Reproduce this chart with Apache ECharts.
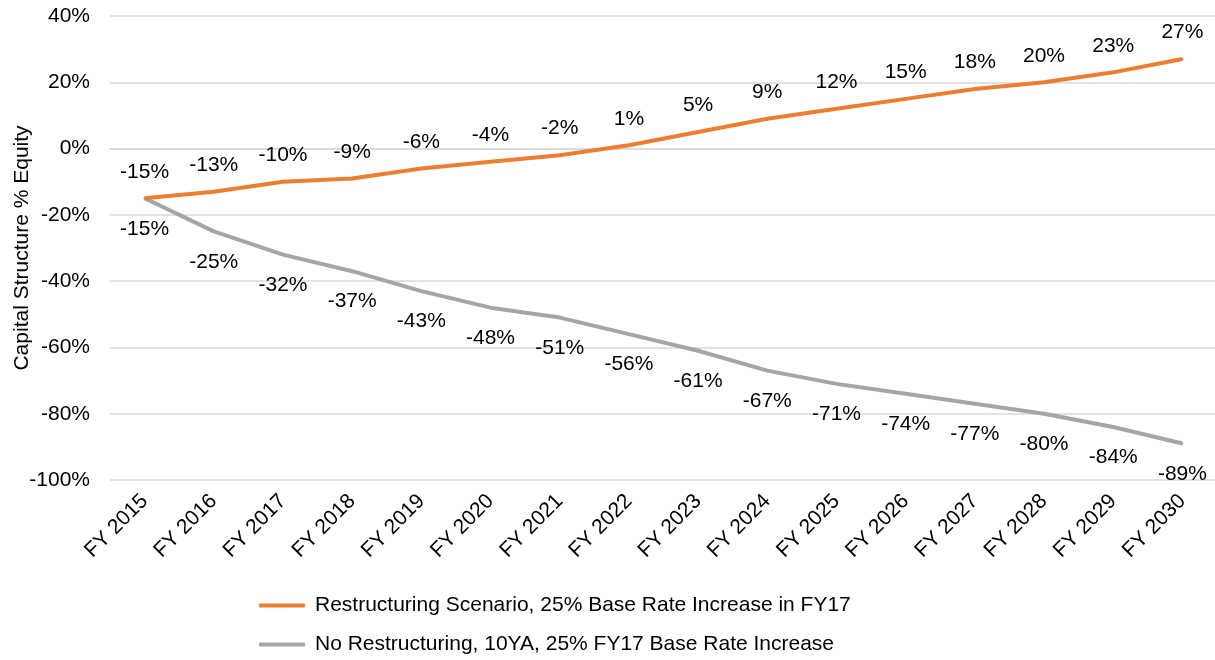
<!DOCTYPE html>
<html><head><meta charset="utf-8">
<script src="https://cdn.jsdelivr.net/npm/echarts@6/dist/echarts.min.js"></script>
<style>html,body{margin:0;padding:0;background:#fff}#c{width:1215px;height:660px}</style>
</head><body><div id="c"></div>
<script>
const categories = ['FY 2015','FY 2016','FY 2017','FY 2018','FY 2019','FY 2020','FY 2021','FY 2022','FY 2023','FY 2024','FY 2025','FY 2026','FY 2027','FY 2028','FY 2029','FY 2030'];
const restructuring = [-15,-13,-10,-9,-6,-4,-2,1,5,9,12,15,18,20,23,27];
const noRestructuring = [-15,-25,-32,-37,-43,-48,-51,-56,-61,-67,-71,-74,-77,-80,-84,-89];
const seriesNames = ['Restructuring Scenario, 25% Base Rate Increase in FY17','No Restructuring, 10YA, 25% FY17 Base Rate Increase'];
const yAxisName = 'Capital Structure % Equity';

const font = 'Liberation Sans, Arial, sans-serif';
const fs = 21;
const legendBase = {
  orient:'horizontal', left:254,
  itemWidth:46, itemHeight:4, icon:'roundRect',
  textStyle:{fontSize:fs, color:'#000', fontFamily:font, padding:[0,0,0,5]}
};
const chart = echarts.init(document.getElementById('c'));
chart.setOption({
  animation:false,
  textStyle:{fontFamily:font},
  grid:{left:110, top:16, width:1107, height:464, outerBoundsMode:'none', containLabel:false},
  legend:[
    Object.assign({}, legendBase, {top:590, data:[seriesNames[0]]}),
    Object.assign({}, legendBase, {top:629, data:[seriesNames[1]]})
  ],
  xAxis:{
    type:'category', data:categories, boundaryGap:true,
    axisLine:{lineStyle:{color:'#d9d9d9', width:1.5}},
    axisTick:{show:false},
    axisLabel:{rotate:45, fontSize:fs, color:'#000', margin:18, interval:0, fontFamily:font}
  },
  yAxis:{
    type:'value', min:-100, max:40, interval:20,
    name:yAxisName, nameLocation:'middle', nameGap:77, nameRotate:90, nameMoveOverlap:false,
    nameTextStyle:{fontSize:fs, color:'#000', fontFamily:font},
    axisLine:{show:false}, axisTick:{show:false},
    splitLine:{lineStyle:{color:'#d9d9d9', width:1.5}},
    axisLabel:{fontSize:fs, color:'#000', margin:20, formatter:v=>v+'%', fontFamily:font}
  },
  series:[
    {name:seriesNames[0], type:'line', data:restructuring, symbol:'circle', symbolSize:2, showSymbol:true, z:3,
     lineStyle:{color:'#ED7D31', width:4}, itemStyle:{color:'#ED7D31'},
     labelLayout:{hideOverlap:false},
     label:{show:true, position:'top', distance:15, fontSize:fs, color:'#000', formatter:p=>Math.round(p.value)+'%'}},
    {name:seriesNames[1], type:'line', data:noRestructuring, symbol:'circle', symbolSize:2, showSymbol:true, z:2,
     lineStyle:{color:'#A5A5A5', width:4}, itemStyle:{color:'#A5A5A5'},
     labelLayout:{hideOverlap:false},
     label:{show:true, position:'bottom', distance:19, fontSize:fs, color:'#000', formatter:p=>Math.round(p.value)+'%'}}
  ]
});
</script></body></html>
